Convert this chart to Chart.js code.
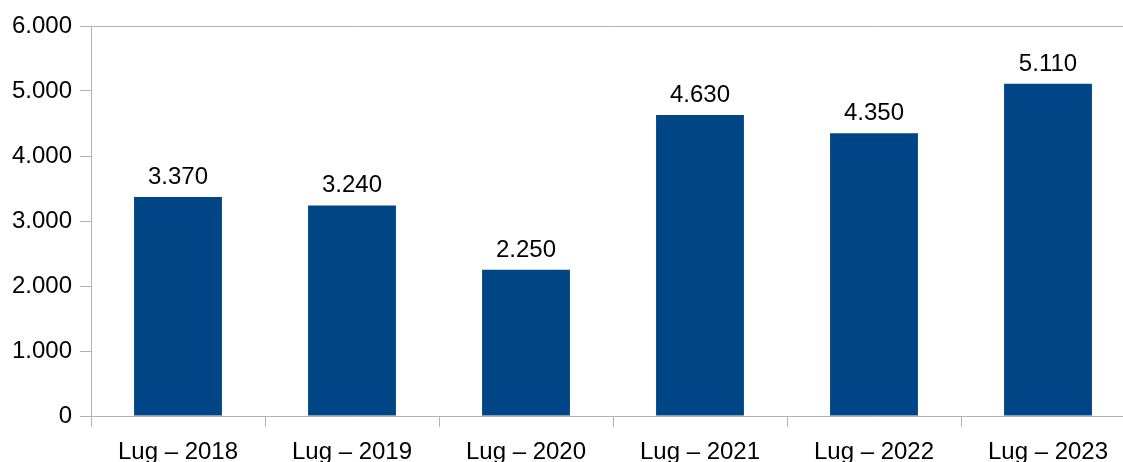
<!DOCTYPE html>
<html>
<head>
<meta charset="utf-8">
<script src="https://cdn.jsdelivr.net/npm/chart.js@4/dist/chart.umd.min.js"></script>
<style>
html,body{margin:0;padding:0;background:#fff;overflow:hidden;width:1123px;height:462px;}
canvas{display:block;}
</style>
</head>
<body>
<canvas id="c" width="1135" height="462"></canvas>
<script>
const categories = ["Lug – 2018","Lug – 2019","Lug – 2020","Lug – 2021","Lug – 2022","Lug – 2023"];
const values = [3370, 3240, 2250, 4630, 4350, 5110];
const yTicks = [0, 1000, 2000, 3000, 4000, 5000, 6000];

const FONT = "'Liberation Sans', Arial, sans-serif";
const AXIS = '#b3b3b3';
function fmt(v){ return String(Math.round(v)).replace(/\B(?=(\d{3})+(?!\d))/g, '.'); }

const labelPlugin = {
  id: 'valueLabels',
  afterDatasetsDraw(chart){
    const ctx = chart.ctx;
    const meta = chart.getDatasetMeta(0);
    ctx.save();
    ctx.font = '24px ' + FONT;
    ctx.fillStyle = '#000';
    ctx.textAlign = 'center';
    ctx.textBaseline = 'alphabetic';
    meta.data.forEach((bar, i) => {
      ctx.fillText(fmt(values[i]), bar.x, bar.y - 13);
    });
    ctx.restore();
  }
};

new Chart(document.getElementById('c'), {
  type: 'bar',
  data: {
    labels: categories,
    datasets: [{
      data: values,
      backgroundColor: '#004586',
      borderWidth: 0,
      categoryPercentage: 1,
      barPercentage: 0.505
    }]
  },
  options: {
    responsive: false,
    animation: false,
    layout: { padding: { top: 26, left: 0, right: 0, bottom: 0 } },
    plugins: { legend: { display: false }, tooltip: { enabled: false } },
    scales: {
      x: {
        offset: true,
        grid: { display: true, drawOnChartArea: false, color: AXIS, tickColor: AXIS, tickLength: 11, offset: true },
        border: { display: true, color: AXIS, width: 1 },
        ticks: { color: '#000', font: { family: FONT, size: 24 }, padding: 11, maxRotation: 0, autoSkip: false },
        afterFit(s){ s.height = 46; }
      },
      y: {
        min: 0, max: 6000,
        afterBuildTicks(s){ s.ticks = yTicks.map(v => ({ value: v })); },
        grid: {
          display: true,
          drawOnChartArea: true,
          color: (c) => (c.tick && c.tick.value === 6000) ? AXIS : 'rgba(0,0,0,0)',
          tickColor: AXIS,
          tickLength: 11
        },
        border: { display: true, color: AXIS, width: 1 },
        ticks: { color: '#000', font: { family: FONT, size: 24 }, padding: 8, callback: (v) => fmt(v) },
        afterFit(s){ s.width = 91; }
      }
    }
  },
  plugins: [labelPlugin]
});
</script>
</body>
</html>
